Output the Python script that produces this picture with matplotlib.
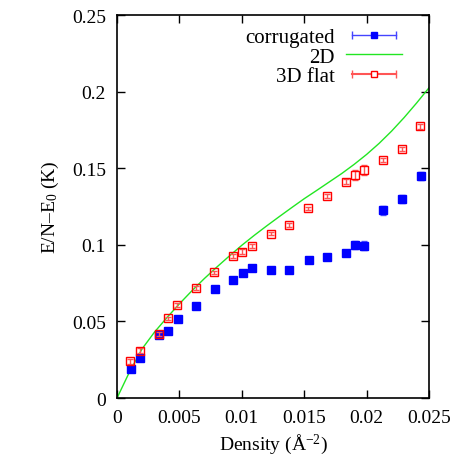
import matplotlib
matplotlib.use("Agg")
import matplotlib.pyplot as plt
from matplotlib.lines import Line2D
from matplotlib.legend_handler import HandlerLine2D, HandlerTuple

plt.rcParams['font.family'] = ['Liberation Serif', 'DejaVu Serif']
plt.rcParams['mathtext.fontset'] = 'custom'
plt.rcParams['mathtext.rm'] = 'Liberation Serif'
plt.rcParams['mathtext.it'] = 'Liberation Serif:italic'
plt.rcParams['font.size'] = 14

# corrugated (blue, filled squares)
corr_x = [0.0011, 0.00184, 0.00333, 0.00408, 0.00485, 0.00632, 0.00784, 0.00933,
          0.01008, 0.01085, 0.01232, 0.01381, 0.01536, 0.0168, 0.01832, 0.0191,
          0.01981, 0.02133, 0.0228, 0.02432]
corr_y = [0.0191, 0.0263, 0.0411, 0.0439, 0.0516, 0.0603, 0.0714, 0.0772,
          0.0818, 0.0850, 0.0838, 0.0838, 0.0903, 0.0922, 0.0946, 0.1001,
          0.0994, 0.1225, 0.1301, 0.1451]
corr_err = [0.0008, 0.0008, 0.0008, 0.0008, 0.0008, 0.0008, 0.0008, 0.0008,
            0.0008, 0.0008, 0.0008, 0.0008, 0.0008, 0.0010, 0.0015, 0.0025,
            0.0030, 0.0030, 0.0025, 0.0025]

# 3D flat (red, open squares)
flat_x = [0.00104, 0.00184, 0.00333, 0.0041, 0.00483, 0.00635, 0.00781, 0.0093,
          0.01005, 0.01083, 0.01232, 0.01381, 0.0153, 0.0168, 0.01832, 0.01907,
          0.01981, 0.0213, 0.0228, 0.0243]
flat_y = [0.0240, 0.0309, 0.0416, 0.0520, 0.0607, 0.0720, 0.0820, 0.0929,
          0.0955, 0.0992, 0.1073, 0.1131, 0.1238, 0.1318, 0.1412, 0.1456,
          0.1488, 0.1553, 0.1625, 0.1773]
flat_err = [0.0015, 0.0015, 0.0012, 0.0012, 0.0012, 0.0012, 0.0012, 0.0012,
            0.0015, 0.0012, 0.0012, 0.0012, 0.0012, 0.0012, 0.0015, 0.0030,
            0.0030, 0.0012, 0.0015, 0.0015]

line_x = [0.0, 0.001, 0.002, 0.003, 0.004, 0.005, 0.006, 0.007, 0.008, 0.009,
          0.010, 0.011, 0.012, 0.013, 0.014, 0.015, 0.016, 0.017, 0.018, 0.019,
          0.020, 0.021, 0.022, 0.023, 0.024, 0.025]
line_y = [0.0, 0.0170, 0.0320, 0.0430, 0.0525, 0.0615, 0.0700, 0.0780, 0.0855,
          0.0927, 0.0997, 0.1062, 0.1124, 0.1184, 0.1243, 0.1301, 0.1355, 0.1410,
          0.1465, 0.1525, 0.1590, 0.1662, 0.1742, 0.1830, 0.1925, 0.2025]

fig = plt.figure(figsize=(4.56, 4.64), dpi=100)
ax = fig.add_axes([0.2566, 0.140, 0.6842, 0.8255])

ax.plot(line_x, line_y, color='#22e622', lw=1.0, zorder=2)
ax.errorbar(corr_x, corr_y, yerr=corr_err, fmt='s', color='blue', ms=5.5,
            ecolor='#5555ff', elinewidth=1, capsize=2.5, zorder=3)
ax.errorbar(flat_x, flat_y, yerr=flat_err, fmt='s', color='red', mfc='none',
            mec='red', ms=6, mew=1.0, ecolor='#ff5555', elinewidth=1,
            capsize=2.5, zorder=4)

ax.set_xlim(0, 0.025)
ax.set_ylim(0, 0.25)
ax.set_xticks([0, 0.005, 0.01, 0.015, 0.02, 0.025])
ax.set_xticklabels(['0', '0.005', '0.01', '0.015', '0.02', '0.025'])
ax.set_yticks([0, 0.05, 0.1, 0.15, 0.2, 0.25])
ax.set_yticklabels(['0', '0.05', '0.1', '0.15', '0.2', '0.25'])
ax.tick_params(direction='in', top=True, right=True, length=6, width=1, pad=8)
for s in ax.spines.values():
    s.set_linewidth(1.2)

ax.set_xlabel('Density (Å$^{-2}$)', labelpad=4)
ax.set_ylabel('E/N\u2013E$_0$ (K)', labelpad=8)

# legend: errorbar line with caps + marker on top
c_line = Line2D([], [], color='#4444ff', lw=1, marker='|', ms=6, mew=1)
c_mark = Line2D([], [], ls='none', color='blue', marker='s', ms=4.5)
g_line = Line2D([], [], color='#22e622', lw=1)
r_line = Line2D([], [], color='#ff5555', lw=1.5, marker='|', ms=6, mew=1)
r_mark = Line2D([], [], ls='none', color='red', marker='s', mfc='white', ms=5, mew=1)
hmap = {c_line: HandlerLine2D(numpoints=2), r_line: HandlerLine2D(numpoints=2),
        c_mark: HandlerLine2D(numpoints=1), r_mark: HandlerLine2D(numpoints=1)}
ax.legend([(c_line, c_mark), g_line, (r_line, r_mark)],
          ['corrugated', '2D', '3D flat'],
          handler_map={**hmap, tuple: HandlerTuple(ndivide=1)},
          loc='upper right', frameon=False, markerfirst=False, fontsize=15,
          handlelength=2.7, labelspacing=0.0, handletextpad=0.55,
          borderaxespad=0.2, bbox_to_anchor=(0.955, 1.0))

fig.savefig('out.png', dpi=100)
